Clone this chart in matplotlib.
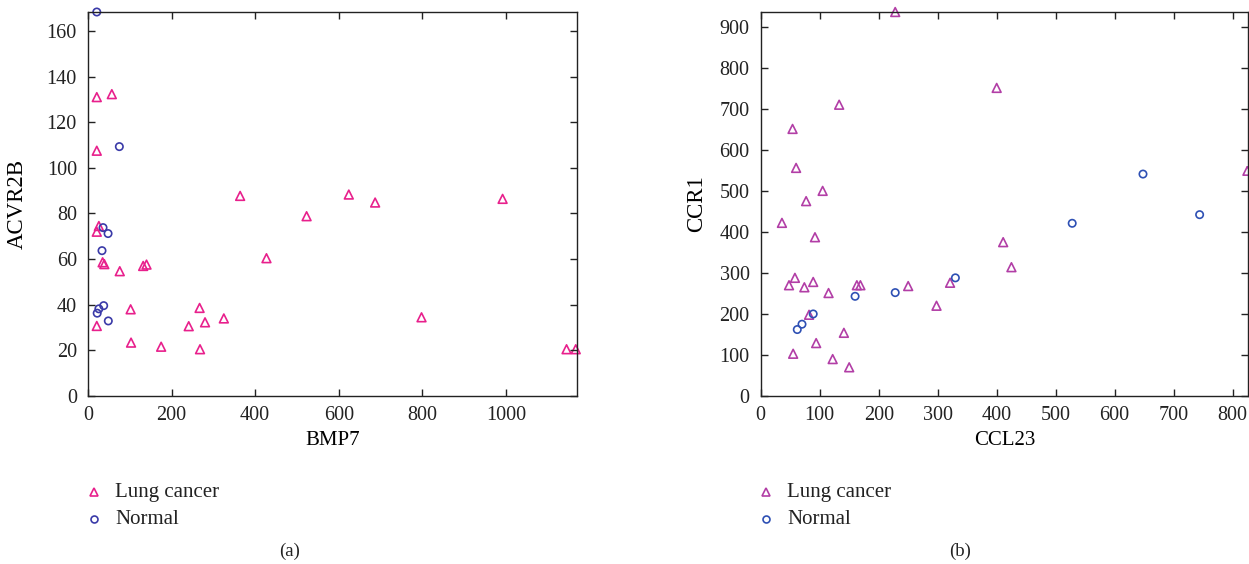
import matplotlib
matplotlib.use("Agg")
from matplotlib import pyplot as plt
from matplotlib.lines import Line2D

plt.rcParams['font.family'] = ['Liberation Serif', 'DejaVu Serif']
plt.rcParams['font.size'] = 14

# (a) BMP7 vs ACVR2B
a_cancer_x = [21, 57, 21, 364, 523, 26, 21, 35, 39, 76, 132, 140, 427, 102, 267, 21,
              241, 280, 325, 103, 175, 268, 624, 687, 992, 798, 1145, 1167]
a_cancer_y = [131, 132.3, 107.5, 87.7, 78.8, 74.5, 72, 58.6, 57.8, 54.7, 57, 57.6, 60.4, 38,
              38.6, 30.7, 30.6, 32.3, 34, 23.4, 21.6, 20.5, 88.3, 84.8, 86.4, 34.5, 20.5, 20.5]
a_normal_x = [21, 75, 36, 48, 33.5, 37.5, 26, 22, 48.6]
a_normal_y = [168.3, 109.3, 73.8, 71.2, 63.7, 39.6, 38.2, 36.3, 32.9]

# (b) CCL23 vs CCR1
b_cancer_x = [228, 133, 54, 60, 105, 77, 36, 92, 58, 48, 74, 89, 115, 163, 169, 250,
              298, 321, 82, 141, 94, 55, 122, 150, 400, 411, 425, 825]
b_cancer_y = [936, 710, 651, 556, 500, 475, 422, 387, 288, 270, 265, 278, 251, 270, 270, 268,
              220, 276, 198, 154, 129, 103, 90, 70, 751, 375, 314, 549]
b_normal_x = [62, 70, 89, 160, 228, 330, 528, 648, 744]
b_normal_y = [162, 175, 200, 243, 252, 288, 421, 541, 442]

W, H = 1249, 564
fig = plt.figure(figsize=(W / 100, H / 100), dpi=100)

def make_axes(left, right):
    return fig.add_axes([left / W, 1 - 396 / H, (right - left) / W, 384 / H])

def style(ax, ylab_x):
    ax.tick_params(direction='in', top=True, right=True, length=5, width=1,
                   colors='#222222', labelsize=14.5)
    ax.tick_params(axis='y', pad=8)
    ax.tick_params(axis='x', pad=7)
    for s in ax.spines.values():
        s.set_linewidth(1)
        s.set_color('#222222')
    ax.xaxis.set_label_coords(0.5, -0.117)
    ax.xaxis.label.set_va('center')
    ax.xaxis.label.set_fontsize(15)
    ax.yaxis.set_label_coords(ylab_x, 0.5)
    ax.yaxis.label.set_va('center')
    ax.yaxis.label.set_fontsize(16.5)

ax1 = make_axes(88, 577)
ax1.scatter(a_cancer_x, a_cancer_y, marker='^', s=40, facecolors='none',
            edgecolors='#E8208C', linewidths=1.2, clip_on=False)
ax1.scatter(a_normal_x, a_normal_y, marker='o', s=28, facecolors='none',
            edgecolors='#3A3AA8', linewidths=1.2, clip_on=False)
ax1.set_xlim(0, 1170)
ax1.set_ylim(0, 168.3)
ax1.set_xticks([0, 200, 400, 600, 800, 1000])
ax1.set_yticks(range(0, 161, 20))
ax1.set_xlabel('BMP7')
ax1.set_ylabel('ACVR2B')
style(ax1, -0.145)

ax2 = make_axes(760.7, 1248)
ax2.scatter(b_cancer_x, b_cancer_y, marker='^', s=40, facecolors='none',
            edgecolors='#B23EA6', linewidths=1.2, clip_on=False)
ax2.scatter(b_normal_x, b_normal_y, marker='o', s=28, facecolors='none',
            edgecolors='#2E50B4', linewidths=1.2, clip_on=False)
ax2.set_xlim(0, 826)
ax2.set_ylim(0, 936)
ax2.set_xticks(range(0, 801, 100))
ax2.set_yticks(range(0, 901, 100))
ax2.set_xlabel('CCL23')
ax2.set_ylabel('CCR1')
style(ax2, -0.131)

def legend(x0, c1, c2):
    for y, m, c, lab in [(492, '^', c1, 'Lung cancer'), (519, 'o', c2, 'Normal')]:
        fig.add_artist(Line2D([x0 / W], [1 - y / H], marker=m, markersize=6 if m == '^' else 5,
                              markerfacecolor='none', markeredgecolor=c, markeredgewidth=1.2,
                              linestyle='none'))
        fig.text((x0 + 21) / W, 1 - y / H, lab, va='center', ha='left', fontsize=15,
                 color='#222222')

legend(94, '#E8208C', '#3A3AA8')
legend(766, '#B23EA6', '#2E50B4')

fig.text(290 / W, 1 - 551 / H, '(a)', ha='center', va='center', fontsize=13.5, color='#222222')
fig.text(960 / W, 1 - 551 / H, '(b)', ha='center', va='center', fontsize=13.5, color='#222222')

fig.savefig('out.png', dpi=100)
